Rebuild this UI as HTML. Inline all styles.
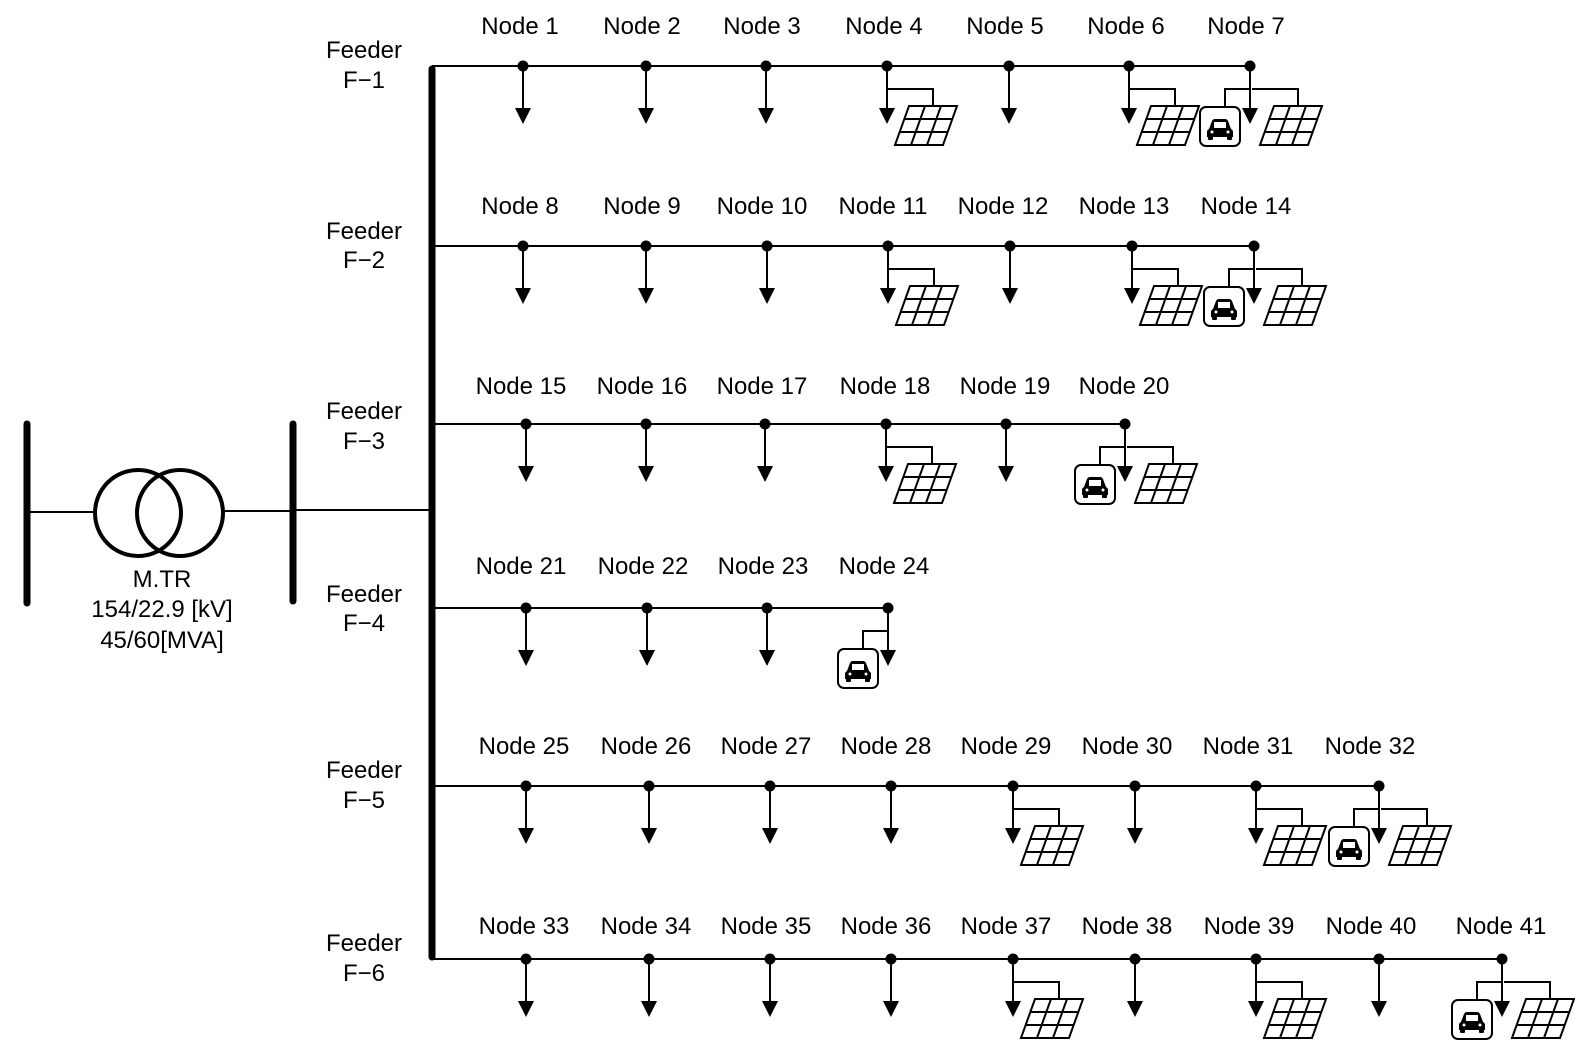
<!DOCTYPE html>
<html><head><meta charset="utf-8"><style>
html,body{margin:0;padding:0;background:#fff;overflow:hidden;width:1575px;height:1043px;}
svg{display:block;}
text{font-family:"Liberation Sans",sans-serif;font-size:24px;fill:#000;text-anchor:middle;}
</style></head><body>
<svg width="1575" height="1043" viewBox="0 0 1575 1043" xmlns="http://www.w3.org/2000/svg">
<defs>
<g id="ld"><line x1="0" y1="0" x2="0" y2="44" stroke="#000" stroke-width="2"/><polygon points="-8,42 8,42 0,58" fill="#000"/></g>
<g id="pv" fill="none" stroke="#000" stroke-width="2">
<path d="M0,23 H46 V40"/>
<polygon points="22,40 70,40 56,79 8,79" fill="#fff"/>
<line x1="17.3" y1="53" x2="65.3" y2="53"/><line x1="12.7" y1="66" x2="60.7" y2="66"/>
<line x1="38" y1="40" x2="24" y2="79"/><line x1="54" y1="40" x2="40" y2="79"/>
</g>
<g id="ev">
<path d="M0,23 H-25 V41" fill="none" stroke="#000" stroke-width="2"/>
<rect x="-50" y="41" width="40" height="39" rx="6" fill="#fff" stroke="#000" stroke-width="2"/>
<path d="M-41,63 L-38,55 Q-37,53 -35,53 H-25 Q-23,53 -22,55 L-19,63 Q-17,64 -17,66 V71 H-43 V66 Q-43,64 -41,63 Z" fill="#000"/>
<rect x="-42" y="70" width="5" height="4" rx="1" fill="#000"/><rect x="-23" y="70" width="5" height="4" rx="1" fill="#000"/>
<rect x="-36" y="56" width="12" height="6" fill="#fff"/>
<circle cx="-38" cy="66" r="1.5" fill="#fff"/><circle cx="-22" cy="66" r="1.5" fill="#fff"/>
</g>
<circle id="d" r="5.5" fill="#000"/>
</defs>

<line x1="27" y1="424" x2="27" y2="603" stroke="#000" stroke-width="7" stroke-linecap="round"/>
<line x1="27" y1="512" x2="95" y2="512" stroke="#000" stroke-width="2"/>
<circle cx="138" cy="513" r="43" fill="none" stroke="#000" stroke-width="4"/>
<circle cx="180" cy="513" r="43" fill="none" stroke="#000" stroke-width="4"/>
<line x1="223" y1="511" x2="293" y2="511" stroke="#000" stroke-width="2"/>
<line x1="293" y1="424" x2="293" y2="601" stroke="#000" stroke-width="7" stroke-linecap="round"/>
<line x1="293" y1="510" x2="432" y2="510" stroke="#000" stroke-width="2"/>
<text x="162" y="587">M.TR</text>
<text x="162" y="617">154/22.9 [kV]</text>
<text x="162" y="648">45/60[MVA]</text>

<line x1="432" y1="69" x2="432" y2="957" stroke="#000" stroke-width="7" stroke-linecap="round"/>

<text x="364" y="58">Feeder</text><text x="364" y="88">F−1</text>
<text x="364" y="239">Feeder</text><text x="364" y="268">F−2</text>
<text x="364" y="419">Feeder</text><text x="364" y="449">F−3</text>
<text x="364" y="602">Feeder</text><text x="364" y="631">F−4</text>
<text x="364" y="778">Feeder</text><text x="364" y="808">F−5</text>
<text x="364" y="951">Feeder</text><text x="364" y="981">F−6</text>

<g stroke="#000" stroke-width="2">
<line x1="432" y1="66" x2="1250" y2="66"/>
<line x1="432" y1="246" x2="1254" y2="246"/>
<line x1="432" y1="424" x2="1125" y2="424"/>
<line x1="432" y1="608" x2="888" y2="608"/>
<line x1="432" y1="786" x2="1379" y2="786"/>
<line x1="432" y1="959" x2="1502" y2="959"/>
</g>

<g transform="translate(0,66)">
<use href="#ld" x="523"/><use href="#ld" x="646"/><use href="#ld" x="766"/><use href="#pv" x="887"/><use href="#ld" x="887"/><use href="#ld" x="1009"/><use href="#pv" x="1129"/><use href="#ld" x="1129"/><use href="#ev" x="1250"/><use href="#pv" x="1252"/><use href="#ld" x="1250"/>
<use href="#d" x="523"/><use href="#d" x="646"/><use href="#d" x="766"/><use href="#d" x="887"/><use href="#d" x="1009"/><use href="#d" x="1129"/><use href="#d" x="1250"/>
</g>
<text x="520" y="34">Node 1</text><text x="642" y="34">Node 2</text><text x="762" y="34">Node 3</text><text x="884" y="34">Node 4</text><text x="1005" y="34">Node 5</text><text x="1126" y="34">Node 6</text><text x="1246" y="34">Node 7</text>

<g transform="translate(0,246)">
<use href="#ld" x="523"/><use href="#ld" x="646"/><use href="#ld" x="767"/><use href="#pv" x="888"/><use href="#ld" x="888"/><use href="#ld" x="1010"/><use href="#pv" x="1132"/><use href="#ld" x="1132"/><use href="#ev" x="1254"/><use href="#pv" x="1256"/><use href="#ld" x="1254"/>
<use href="#d" x="523"/><use href="#d" x="646"/><use href="#d" x="767"/><use href="#d" x="888"/><use href="#d" x="1010"/><use href="#d" x="1132"/><use href="#d" x="1254"/>
</g>
<text x="520" y="214">Node 8</text><text x="642" y="214">Node 9</text><text x="762" y="214">Node 10</text><text x="883" y="214">Node 11</text><text x="1003" y="214">Node 12</text><text x="1124" y="214">Node 13</text><text x="1246" y="214">Node 14</text>

<g transform="translate(0,424)">
<use href="#ld" x="526"/><use href="#ld" x="646"/><use href="#ld" x="765"/><use href="#pv" x="886"/><use href="#ld" x="886"/><use href="#ld" x="1006"/><use href="#ev" x="1125"/><use href="#pv" x="1127"/><use href="#ld" x="1125"/>
<use href="#d" x="526"/><use href="#d" x="646"/><use href="#d" x="765"/><use href="#d" x="886"/><use href="#d" x="1006"/><use href="#d" x="1125"/>
</g>
<text x="521" y="394">Node 15</text><text x="642" y="394">Node 16</text><text x="762" y="394">Node 17</text><text x="885" y="394">Node 18</text><text x="1005" y="394">Node 19</text><text x="1124" y="394">Node 20</text>

<g transform="translate(0,608)">
<use href="#ld" x="526"/><use href="#ld" x="647"/><use href="#ld" x="767"/><use href="#ev" x="888"/><use href="#ld" x="888"/>
<use href="#d" x="526"/><use href="#d" x="647"/><use href="#d" x="767"/><use href="#d" x="888"/>
</g>
<text x="521" y="574">Node 21</text><text x="643" y="574">Node 22</text><text x="763" y="574">Node 23</text><text x="884" y="574">Node 24</text>

<g transform="translate(0,786)">
<use href="#ld" x="526"/><use href="#ld" x="649"/><use href="#ld" x="770"/><use href="#ld" x="891"/><use href="#pv" x="1013"/><use href="#ld" x="1013"/><use href="#ld" x="1135"/><use href="#pv" x="1256"/><use href="#ld" x="1256"/><use href="#ev" x="1379"/><use href="#pv" x="1381"/><use href="#ld" x="1379"/>
<use href="#d" x="526"/><use href="#d" x="649"/><use href="#d" x="770"/><use href="#d" x="891"/><use href="#d" x="1013"/><use href="#d" x="1135"/><use href="#d" x="1256"/><use href="#d" x="1379"/>
</g>
<text x="524" y="754">Node 25</text><text x="646" y="754">Node 26</text><text x="766" y="754">Node 27</text><text x="886" y="754">Node 28</text><text x="1006" y="754">Node 29</text><text x="1127" y="754">Node 30</text><text x="1248" y="754">Node 31</text><text x="1370" y="754">Node 32</text>

<g transform="translate(0,959)">
<use href="#ld" x="526"/><use href="#ld" x="649"/><use href="#ld" x="770"/><use href="#ld" x="891"/><use href="#pv" x="1013"/><use href="#ld" x="1013"/><use href="#ld" x="1135"/><use href="#pv" x="1256"/><use href="#ld" x="1256"/><use href="#ld" x="1379"/><use href="#ev" x="1502"/><use href="#pv" x="1504"/><use href="#ld" x="1502"/>
<use href="#d" x="526"/><use href="#d" x="649"/><use href="#d" x="770"/><use href="#d" x="891"/><use href="#d" x="1013"/><use href="#d" x="1135"/><use href="#d" x="1256"/><use href="#d" x="1379"/><use href="#d" x="1502"/>
</g>
<text x="524" y="934">Node 33</text><text x="646" y="934">Node 34</text><text x="766" y="934">Node 35</text><text x="886" y="934">Node 36</text><text x="1006" y="934">Node 37</text><text x="1127" y="934">Node 38</text><text x="1249" y="934">Node 39</text><text x="1371" y="934">Node 40</text><text x="1501" y="934">Node 41</text>
</svg>
</body></html>
